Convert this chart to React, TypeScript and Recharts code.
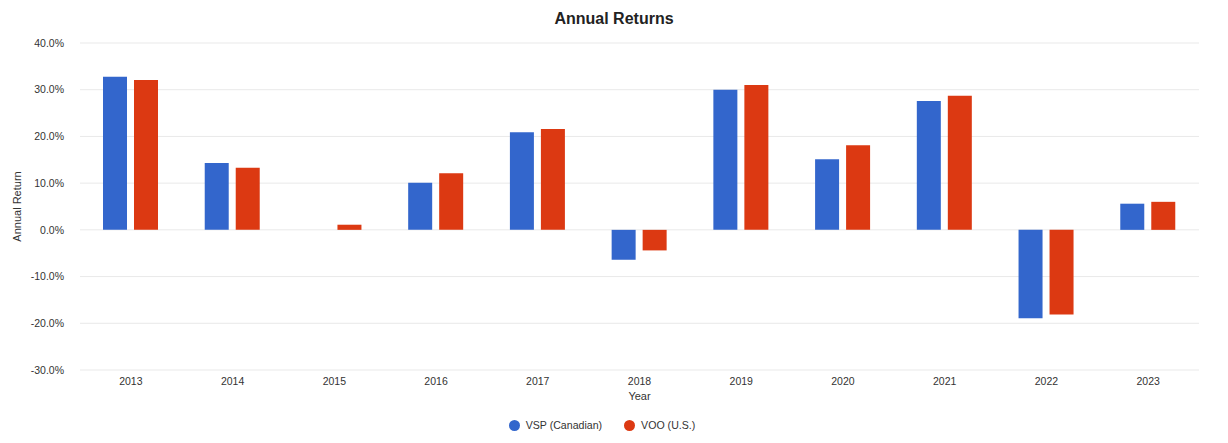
import React from 'react';
import { BarChart, Bar, XAxis, YAxis, CartesianGrid } from 'recharts';

const years = ['2013', '2014', '2015', '2016', '2017', '2018', '2019', '2020', '2021', '2022', '2023'];
const vspCanadian = [32.8, 14.3, 0.0, 10.1, 20.9, -6.4, 30.0, 15.1, 27.6, -18.9, 5.6];
const vooUS = [32.1, 13.3, 1.1, 12.1, 21.6, -4.4, 31.0, 18.1, 28.7, -18.1, 6.0];
const yTicks = [-30, -20, -10, 0, 10, 20, 30, 40];
const seriesNames = ['VSP (Canadian)', 'VOO (U.S.)'];
const seriesColors = ['#3366CC', '#DC3912'];

const data = years.map((y, i) => ({ year: y, vsp: vspCanadian[i], voo: vooUS[i] }));

const FONT = 'Arial, "Liberation Sans", sans-serif';

export default function App() {
  return (
    <div style={{ position: 'absolute', left: 0, top: 0, width: 1228, height: 443, background: '#fff', fontFamily: FONT }}>
      <div style={{ position: 'absolute', left: 0, top: 10, width: 1228, textAlign: 'center', fontSize: 16, fontWeight: 'bold', color: '#222' }}>
        Annual Returns
      </div>
      <BarChart
        width={1228}
        height={443}
        data={data}
        margin={{ top: 43, right: 29, left: 10, bottom: 43 }}
        barSize={24}
        barGap={7}
      >
        <CartesianGrid vertical={false} stroke="#e9e9e9" />
        <XAxis
          dataKey="year"
          axisLine={false}
          tickLine={false}
          height={30}
          tick={{ fontSize: 10.5, fill: '#333', fontFamily: FONT }}
          tickMargin={2}
          label={{ value: 'Year', position: 'insideBottom', offset: 0, fontSize: 11, fill: '#333', fontFamily: FONT }}
        />
        <YAxis
          width={70}
          domain={[-30, 40]}
          ticks={yTicks}
          axisLine={false}
          tickLine={false}
          tickFormatter={(v: number) => v.toFixed(1) + '%'}
          tick={{ fontSize: 10.5, fill: '#333', fontFamily: FONT }}
          tickMargin={10}
          label={{ value: 'Annual Return', angle: -90, position: 'insideLeft', offset: 7, fontSize: 11, fill: '#333', fontFamily: FONT, style: { textAnchor: 'middle' } }}
        />
        <Bar dataKey="vsp" name={seriesNames[0]} fill={seriesColors[0]} isAnimationActive={false} />
        <Bar dataKey="voo" name={seriesNames[1]} fill={seriesColors[1]} isAnimationActive={false} />
      </BarChart>
      <div style={{ position: 'absolute', left: -12, top: 419, width: 1228, display: 'flex', justifyContent: 'center', fontSize: 10.6, color: '#333' }}>
        {seriesNames.map((n, i) => (
          <div key={n} style={{ display: 'flex', alignItems: 'center', marginLeft: i === 0 ? 0 : 22 }}>
            <span style={{ display: 'inline-block', width: 11, height: 11, borderRadius: '50%', background: seriesColors[i], marginRight: 6 }} />
            <span>{n}</span>
          </div>
        ))}
      </div>
    </div>
  );
}
